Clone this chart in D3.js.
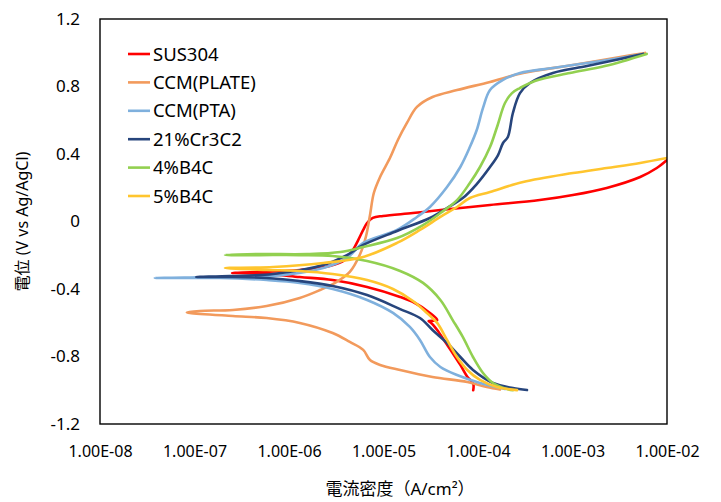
<!DOCTYPE html>
<html>
<head>
<meta charset="utf-8">
<script src="https://cdn.jsdelivr.net/npm/d3@7"></script>
<style>
  body { margin: 0; background: #fff; }
  text { font-family: "Noto Sans", "Noto Sans CJK JP", sans-serif; fill: #000; }
</style>
</head>
<body>
<div id="chart"></div>
<script>
// series names and colours, in legend order
var seriesNames = ["SUS304", "CCM(PLATE)", "CCM(PTA)", "21%Cr3C2", "4%B4C", "5%B4C"];
var seriesColors = ["#ff0000", "#f29a5c", "#7fb0dd", "#27457c", "#92d050", "#ffc52e"];

// [current density A/cm2, potential V]
// each curve runs from the cathodic end, through the tip (Ecorr), up the anodic branch
var sus304 = [
  [8.9e-5, -1.00], [8.9e-5, -0.96], [7.7e-5, -0.92], [6.5e-5, -0.85], [5.3e-5, -0.773],
  [4.5e-5, -0.714], [3.7e-5, -0.643], [3.2e-5, -0.601], [3.0e-5, -0.590], [3.7e-5, -0.584],
  [3.1e-5, -0.542], [2.15e-5, -0.483], [1.5e-5, -0.447], [6.7e-6, -0.388], [2.9e-6, -0.347],
  [1.3e-6, -0.329], [5.8e-7, -0.311], [3.0e-7, -0.305], [2.5e-7, -0.305],
  [4.9e-7, -0.299], [1.3e-6, -0.287], [2.7e-6, -0.264], [3.9e-6, -0.228], [4.75e-6, -0.169],
  [5.4e-6, -0.110], [6.1e-6, -0.050], [6.7e-6, -0.009], [7.7e-6, 0.021], [9.9e-6, 0.033],
  [2.05e-5, 0.050], [4.0e-5, 0.068], [1.34e-4, 0.098], [4.5e-4, 0.127], [1.01e-3, 0.157],
  [2.3e-3, 0.199], [5.2e-3, 0.264], [7.8e-3, 0.317], [1.0e-2, 0.364]
];

var ccmPlate = [
  [1.71e-4, -0.996], [1.24e-4, -0.981], [7.7e-5, -0.951], [3.3e-5, -0.921], [1.5e-5, -0.880],
  [9.2e-6, -0.850], [7.2e-6, -0.821], [6.1e-6, -0.761], [4.4e-6, -0.714], [2.9e-6, -0.661],
  [1.3e-6, -0.601], [5.8e-7, -0.572], [2.55e-7, -0.560], [8.95e-8, -0.542], [8.3e-8, -0.538],
  [1.14e-7, -0.530], [2.55e-7, -0.524], [5.8e-7, -0.501], [1.3e-6, -0.453], [2.13e-6, -0.406],
  [3.07e-6, -0.364], [4.4e-6, -0.299], [5.6e-6, -0.199], [6.5e-6, -0.092], [7.2e-6, 0.039],
  [7.9e-6, 0.169], [9.2e-6, 0.264], [1.17e-5, 0.376], [1.42e-5, 0.483], [1.77e-5, 0.584],
  [2.26e-5, 0.679], [3.3e-5, 0.738], [6.0e-5, 0.779], [1.34e-4, 0.827], [3.0e-4, 0.880],
  [1.01e-3, 0.927], [3.2e-3, 0.975], [5.85e-3, 0.999]
];

var ccmPta = [
  [1.93e-4, -0.993], [1.05e-4, -0.957], [6.0e-5, -0.910], [4.0e-5, -0.862], [3.1e-5, -0.803],
  [2.43e-5, -0.702], [1.9e-5, -0.625], [1.26e-5, -0.542], [6.7e-6, -0.465], [2.9e-6, -0.400],
  [1.3e-6, -0.364], [5.8e-7, -0.347], [1.86e-7, -0.335], [3.8e-8, -0.335],
  [1.14e-7, -0.330], [6.8e-7, -0.323], [2.3e-6, -0.276], [4.1e-6, -0.216], [6.1e-6, -0.127],
  [1.39e-5, -0.050], [2.26e-5, 0.027], [3.1e-5, 0.086], [4.7e-5, 0.204], [6.5e-5, 0.323],
  [8.2e-5, 0.441], [9.7e-5, 0.542], [1.13e-4, 0.673], [1.34e-4, 0.779], [1.84e-4, 0.839],
  [2.78e-4, 0.880], [6.2e-4, 0.910], [1.42e-3, 0.939], [3.2e-3, 0.969], [5.6e-3, 0.993]
];

var cr3c2 = [
  [3.3e-4, -0.999], [2.34e-4, -0.987], [1.44e-4, -0.957], [8.85e-5, -0.880], [6.5e-5, -0.803],
  [4.7e-5, -0.720], [3.3e-5, -0.643], [2.43e-5, -0.572], [1.5e-5, -0.519], [6.7e-6, -0.436],
  [2.9e-6, -0.382], [1.3e-6, -0.353], [5.8e-7, -0.335], [2.38e-7, -0.329], [1.04e-7, -0.329],
  [2.38e-7, -0.323], [6.8e-7, -0.311], [2.3e-6, -0.258], [4.1e-6, -0.199], [6.1e-6, -0.139],
  [1.39e-5, -0.056], [3.1e-5, 0.021], [4.7e-5, 0.080], [6.9e-5, 0.139], [9.7e-5, 0.222],
  [1.34e-4, 0.323], [1.63e-4, 0.394], [1.84e-4, 0.465], [2.07e-4, 0.501], [2.34e-4, 0.643],
  [2.78e-4, 0.761], [3.55e-4, 0.821], [6.2e-4, 0.880], [1.42e-3, 0.921], [3.2e-3, 0.963],
  [5.6e-3, 0.993]
];

var b4c4 = [
  [2.34e-4, -0.999], [2.03e-4, -0.993], [1.44e-4, -0.957], [1.13e-4, -0.898], [8.85e-5, -0.803],
  [6.9e-5, -0.684], [5.4e-5, -0.584], [4.0e-5, -0.465], [2.62e-5, -0.364], [1.5e-5, -0.293],
  [6.7e-6, -0.234], [2.9e-6, -0.204], [1.3e-6, -0.199], [4.9e-7, -0.199], [2.1e-7, -0.199],
  [4.9e-7, -0.193], [1.55e-6, -0.193], [3.5e-6, -0.181], [6.1e-6, -0.151], [1.39e-5, -0.098],
  [2.62e-5, -0.021], [4.0e-5, 0.050], [6.0e-5, 0.127], [8.2e-5, 0.228], [1.05e-4, 0.323],
  [1.34e-4, 0.441], [1.59e-4, 0.560], [1.93e-4, 0.702], [2.29e-4, 0.761], [2.78e-4, 0.791],
  [4.0e-4, 0.833], [9.4e-4, 0.880], [2.2e-3, 0.921], [6.1e-3, 0.993]
];

var b4c5 = [
  [2.59e-4, -0.999], [1.59e-4, -0.981], [1.05e-4, -0.939], [7.7e-5, -0.880], [6.0e-5, -0.803],
  [4.7e-5, -0.702], [3.7e-5, -0.601], [2.88e-5, -0.542], [2.05e-5, -0.471], [1.26e-5, -0.400],
  [6.7e-6, -0.347], [2.9e-6, -0.311], [1.3e-6, -0.293], [5.8e-7, -0.287], [2.1e-7, -0.276],
  [6.8e-7, -0.270], [2.3e-6, -0.246], [6.1e-6, -0.210], [1.39e-5, -0.127], [2.43e-5, -0.050],
  [4.0e-5, 0.027], [6.0e-5, 0.086], [8.2e-5, 0.139], [1.34e-4, 0.175], [3.0e-4, 0.234],
  [1.01e-3, 0.287], [2.3e-3, 0.317], [5.2e-3, 0.347], [1.0e-2, 0.376]
];

var allSeries = [sus304, ccmPlate, ccmPta, cr3c2, b4c4, b4c5];

// axis ticks
var xTicks = [1e-8, 1e-7, 1e-6, 1e-5, 1e-4, 1e-3, 1e-2];
var xTickLabels = ["1.00E-08", "1.00E-07", "1.00E-06", "1.00E-05", "1.00E-04", "1.00E-03", "1.00E-02"];
var yTicks = [-1.2, -0.8, -0.4, 0, 0.4, 0.8, 1.2];
var yTickLabels = ["-1.2", "-0.8", "-0.4", "0", "0.4", "0.8", "1.2"];

var svgWidth = 721;
var svgHeight = 502;
var margin = { top: 19, right: 54, bottom: 78, left: 100 };
var width = svgWidth - margin.left - margin.right;
var height = svgHeight - margin.top - margin.bottom;

var svg = d3.select("#chart")
  .append("svg")
  .attr("width", svgWidth)
  .attr("height", svgHeight);

var chartGroup = svg.append("g")
  .attr("transform", `translate(${margin.left}, ${margin.top})`);

// scales
var xLogScale = d3.scaleLog()
  .domain([1e-8, 1e-2])
  .range([0, width]);

var yLinearScale = d3.scaleLinear()
  .domain([-1.2, 1.2])
  .range([height, 0]);

// axes (labels only, no tick marks)
var bottomAxis = d3.axisBottom(xLogScale)
  .tickValues(xTicks)
  .tickFormat((d, i) => xTickLabels[i])
  .tickSize(0)
  .tickPadding(22);

var leftAxis = d3.axisLeft(yLinearScale)
  .tickValues(yTicks)
  .tickFormat((d, i) => yTickLabels[i])
  .tickSize(0)
  .tickPadding(20);

var xAxisG = chartGroup.append("g")
  .attr("transform", `translate(0, ${height})`)
  .call(bottomAxis);
xAxisG.select(".domain").remove();
xAxisG.selectAll("text")
  .style("font-family", '"Noto Sans", sans-serif')
  .style("font-size", "16px");

var yAxisG = chartGroup.append("g")
  .call(leftAxis);
yAxisG.select(".domain").remove();
yAxisG.selectAll("text")
  .style("font-family", '"Noto Sans", sans-serif')
  .style("font-size", "17px");

// clip so curves stop at the frame
chartGroup.append("clipPath")
  .attr("id", "plotClip")
  .append("rect")
  .attr("width", width)
  .attr("height", height);

var line = d3.line()
  .x(d => xLogScale(d[0]))
  .y(d => yLinearScale(d[1]))
  .curve(d3.curveCatmullRom.alpha(0.5));

var linesGroup = chartGroup.append("g")
  .attr("clip-path", "url(#plotClip)");

linesGroup.selectAll("path")
  .data(allSeries)
  .enter()
  .append("path")
  .attr("d", d => line(d))
  .attr("fill", "none")
  .attr("stroke", (d, i) => seriesColors[i])
  .attr("stroke-width", 2.6)
  .attr("stroke-linejoin", "round")
  .attr("stroke-linecap", "round");

// plot frame
chartGroup.append("rect")
  .attr("width", width)
  .attr("height", height)
  .attr("fill", "none")
  .attr("stroke", "#000")
  .attr("stroke-width", 1.4);

// legend
var legend = svg.append("g")
  .attr("transform", "translate(128, 54)");

var legendItems = legend.selectAll("g")
  .data(seriesNames)
  .enter()
  .append("g")
  .attr("transform", (d, i) => `translate(0, ${i * 28.4})`);

legendItems.append("line")
  .attr("x1", 0)
  .attr("x2", 22)
  .attr("stroke", (d, i) => seriesColors[i])
  .attr("stroke-width", 2.6);

legendItems.append("text")
  .attr("x", 25)
  .attr("dy", "0.36em")
  .style("font-size", "18.5px")
  .text(d => d);

// axis titles
svg.append("text")
  .attr("transform", `translate(22, ${margin.top + height / 2}) rotate(-90)`)
  .attr("text-anchor", "middle")
  .attr("dy", "0.35em")
  .style("font-size", "16px")
  .text("電位 (V vs Ag/AgCl)");

svg.append("text")
  .attr("x", 400)
  .attr("y", 495)
  .attr("text-anchor", "middle")
  .style("font-size", "17px")
  .text("電流密度（A/cm²）");
</script>
</body>
</html>
